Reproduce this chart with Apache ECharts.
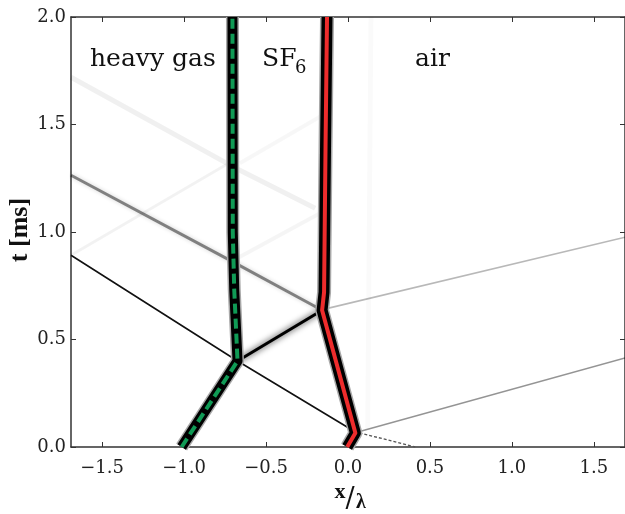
<!DOCTYPE html>
<html><head><meta charset="utf-8">
<script src="https://cdn.jsdelivr.net/npm/echarts@6/dist/echarts.min.js"></script>
<style>html,body{margin:0;padding:0;background:#fff}#c{width:625px;height:514px}</style>
</head><body><div id="c"></div>
<script>
// tick values
const xTicks = [-1.5, -1.0, -0.5, 0.0, 0.5, 1.0, 1.5];
const tTicks = [0.0, 0.5, 1.0, 1.5, 2.0];
const xRange = [-1.69, 1.69];
const tRange = [0, 2];
// region labels
const regionHeavy = 'heavy gas';
const regionSF = 'SF';
const regionSFsub = '6';
const regionAir = 'air';
// interfaces [x/lambda, t ms]
const heavyInterface = [[-1.015, 0], [-0.674, 0.40], [-0.694, 0.73], [-0.703, 1.0], [-0.705, 2.0]];
const airInterface = [[-0.005, 0], [0.045, 0.065], [-0.158, 0.636], [-0.146, 0.72], [-0.137, 1.4], [-0.128, 2.0]];
// waves
const incidentShock = [[-1.69, 0.892], [-0.674, 0.40], [0.04, 0.072]];
const transmittedShock = [[-0.674, 0.40], [-0.158, 0.636]];
const reflectedWave = [[-1.69, 1.264], [-0.705, 0.862], [-0.158, 0.636]];
const reflectedWave2 = [[-1.69, 1.72], [-0.705, 1.305], [-0.2, 1.11]];
const faintWaveA = [[-1.69, 0.892], [-0.705, 1.33]];
const faintWaveB = [[-0.67, 0.88], [-0.14, 1.10]];
const faintWaveC = [[-0.66, 1.32], [-0.14, 1.55]];
const airShock1 = [[0.06, 0.07], [1.69, 0.414]];
const airShock2 = [[-0.15, 0.64], [1.69, 0.976]];
const airReflect = [[0.07, 0.066], [0.41, 0]];
const airContact = [[0.12, 0.08], [0.14, 2.0]];

const serif = "'DejaVu Serif', serif";
const serifBold = "'Liberation Serif', 'DejaVu Serif', serif";
const fmt = v => (v < 0 ? '\u2212' : '') + Math.abs(v).toFixed(1);

function ln(data, style, z) {
  return { type: 'line', data: data, showSymbol: false, symbol: 'none', silent: true, z: z,
    lineStyle: Object.assign({ cap: 'butt', join: 'round' }, style), animation: false };
}

const chart = echarts.init(document.getElementById('c'), null, { renderer: 'canvas' });
const axisCommon = {
  axisLine: { onZero: false, lineStyle: { color: '#333', width: 1.5 } },
  splitLine: { show: false }
};
chart.setOption({
  animation: false,
  backgroundColor: '#fff',
  grid: { left: 71, right: -3, top: 17, bottom: 67, containLabel: false },
  xAxis: [
    Object.assign({ type: 'value', min: xRange[0], max: xRange[1], position: 'bottom',
      axisTick: { inside: true, length: 5, customValues: xTicks, lineStyle: { color: '#333' } },
      axisLabel: { customValues: xTicks, formatter: fmt, fontFamily: serif, fontSize: 18, color: '#222', margin: 12 } }, axisCommon),
    Object.assign({ type: 'value', min: xRange[0], max: xRange[1], position: 'top',
      axisTick: { inside: true, length: 5, customValues: xTicks, lineStyle: { color: '#333' } },
      axisLabel: { show: false } }, axisCommon)
  ],
  yAxis: [
    Object.assign({ type: 'value', min: tRange[0], max: tRange[1], position: 'left',
      axisTick: { inside: true, length: 5, customValues: tTicks, lineStyle: { color: '#333' } },
      axisLabel: { customValues: tTicks, formatter: fmt, fontFamily: serif, fontSize: 18, color: '#222', margin: 5 } }, axisCommon),
    Object.assign({ type: 'value', min: tRange[0], max: tRange[1], position: 'right',
      axisTick: { inside: true, length: 5, customValues: tTicks, lineStyle: { color: '#333' } },
      axisLabel: { show: false } }, axisCommon)
  ],
  series: [
    ln(airContact, { color: 'rgba(0,0,0,0.02)', width: 5 }, 1),
    ln(faintWaveA, { color: 'rgba(0,0,0,0.05)', width: 3 }, 1),
    ln(faintWaveB, { color: 'rgba(0,0,0,0.04)', width: 4 }, 1),
    ln(faintWaveC, { color: 'rgba(0,0,0,0.03)', width: 4 }, 1),
    ln(reflectedWave2, { color: 'rgba(0,0,0,0.06)', width: 5 }, 1),
    ln(reflectedWave, { color: 'rgba(0,0,0,0.45)', width: 3, shadowBlur: 4, shadowColor: 'rgba(0,0,0,0.4)' }, 2),
    ln(airShock2, { color: 'rgba(0,0,0,0.28)', width: 1.6 }, 2),
    ln(airShock1, { color: 'rgba(0,0,0,0.42)', width: 1.6 }, 2),
    ln(airReflect, { color: '#555', width: 1.3, type: [3, 2] }, 2),
    ln(transmittedShock, { color: '#000', width: 3, shadowBlur: 6, shadowColor: 'rgba(0,0,0,0.9)' }, 3),
    ln(incidentShock, { color: '#111', width: 1.6 }, 3),
    ln(heavyInterface, { color: '#a8a8a8', width: 13 }, 4),
    ln(heavyInterface, { color: '#000', width: 10 }, 5),
    ln(heavyInterface, { color: '#109a55', width: 4, type: [10, 5] }, 6),
    ln(airInterface, { color: '#a8a8a8', width: 14 }, 4),
    ln(airInterface, { color: '#000', width: 11 }, 5),
    ln(airInterface, { color: '#ee2c2c', width: 4 }, 6)
  ],
  graphic: [
    { type: 'text', left: 90, top: 47, z: 100, style: { text: regionHeavy, fontFamily: serif, fontSize: 25, fill: '#111' } },
    { type: 'text', left: 262, top: 47, z: 100, style: { text: regionSF, fontFamily: serif, fontSize: 25, fill: '#111' } },
    { type: 'text', left: 295, top: 59, z: 100, style: { text: regionSFsub, fontFamily: serif, fontSize: 18, fill: '#111' } },
    { type: 'text', left: 415, top: 47, z: 100, style: { text: regionAir, fontFamily: serif, fontSize: 25, fill: '#111' } },
    { type: 'text', x: 20, y: 230, rotation: Math.PI / 2, z: 100,
      style: { text: 't [ms]', fontFamily: serifBold, fontWeight: 'bold', fontSize: 26, fill: '#111', align: 'center', verticalAlign: 'middle' } },
    { type: 'text', x: 340, y: 492, z: 100, style: { text: 'x', fontFamily: serifBold, fontWeight: 'bold', fontSize: 22, fill: '#111', align: 'center', verticalAlign: 'middle' } },
    { type: 'text', x: 350, y: 500, z: 100, style: { text: '/', fontFamily: serif, fontSize: 27, fill: '#111', align: 'center', verticalAlign: 'middle' } },
    { type: 'text', x: 361, y: 503, z: 100, style: { text: 'λ', fontFamily: serifBold, fontWeight: 'bold', fontSize: 20, fill: '#111', align: 'center', verticalAlign: 'middle' } }
  ]
});
</script></body></html>
